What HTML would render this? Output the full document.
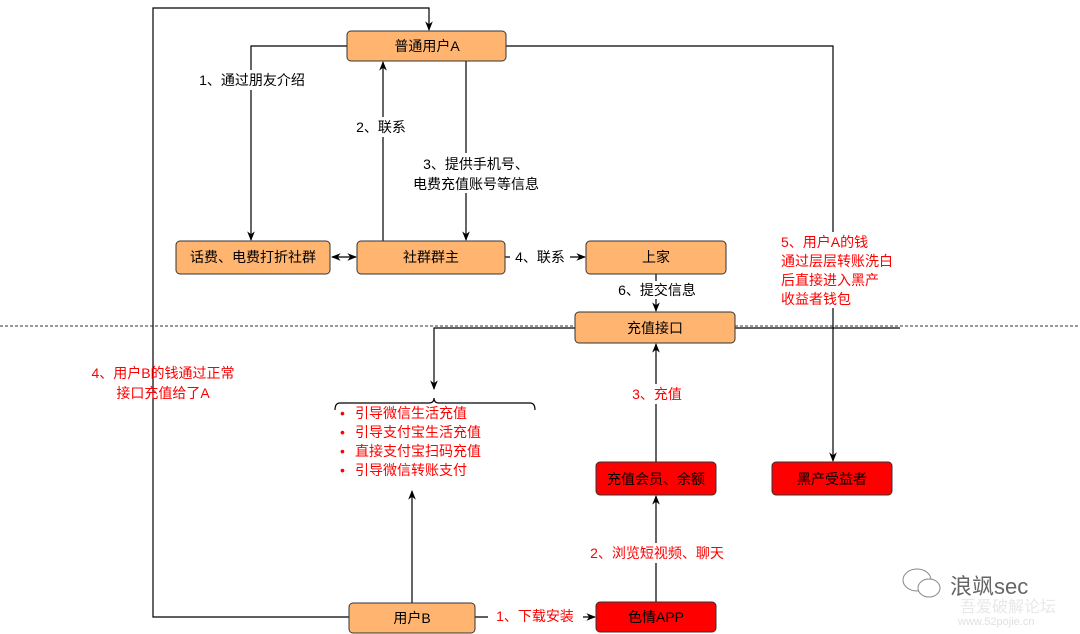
<!DOCTYPE html>
<html><head><meta charset="utf-8"><style>
body{margin:0;background:#fff;}
svg{display:block;font-family:"Liberation Sans","Noto Sans CJK SC",sans-serif;}
</style></head><body>
<svg width="1080" height="634" viewBox="0 0 1080 634" xmlns="http://www.w3.org/2000/svg">
<defs>
<marker id="a" viewBox="0 0 10 10" refX="9" refY="5" markerWidth="8" markerHeight="8" orient="auto-start-reverse"><path d="M0,1 L10,5 L0,9 L3,5 z" fill="#000"/></marker>
</defs>
<line x1="0" y1="326" x2="1080" y2="326" stroke="#333" stroke-dasharray="3,2" stroke-width="1"/>
<g fill="none" stroke="#000" stroke-width="1.2">
<polyline points="349,617 153,617 153,8 429,8 429,30" marker-end="url(#a)"/>
<polyline points="347,46 251,46 251,240" marker-end="url(#a)"/>
<line x1="383" y1="241" x2="383" y2="62" marker-end="url(#a)"/>
<line x1="466" y1="61" x2="466" y2="240" marker-end="url(#a)"/>
<line x1="332" y1="257" x2="356" y2="257" marker-start="url(#a)" marker-end="url(#a)"/>
<line x1="505" y1="257" x2="585" y2="257" marker-end="url(#a)"/>
<line x1="656" y1="274" x2="656" y2="311" marker-end="url(#a)"/>
<polyline points="506,46 833,46 833,461" marker-end="url(#a)"/>
<polyline points="575,328 434,328 434,389" marker-end="url(#a)"/>
<line x1="735" y1="328" x2="900" y2="328"/>
<line x1="656" y1="462" x2="656" y2="344" marker-end="url(#a)"/>
<line x1="656" y1="602" x2="656" y2="496" marker-end="url(#a)"/>
<line x1="412" y1="603" x2="412" y2="491" marker-end="url(#a)"/>
<line x1="475" y1="617" x2="595" y2="617" marker-end="url(#a)"/>
<path d="M335,410 Q335,403 340,403 L429,403 Q434,403 434,398 Q434,403 439,403 L530,403 Q535,403 535,410"/>
</g>
<g stroke="#333" stroke-width="1">
<rect x="347" y="31" width="159" height="30" rx="4" fill="#ffb570"/>
<rect x="176" y="241" width="154" height="33" rx="4" fill="#ffb570"/>
<rect x="357" y="241" width="148" height="33" rx="4" fill="#ffb570"/>
<rect x="586" y="241" width="140" height="33" rx="4" fill="#ffb570"/>
<rect x="575" y="312" width="160" height="31" rx="4" fill="#ffb570"/>
<rect x="349" y="603" width="126" height="30" rx="4" fill="#ffb570"/>
<rect x="596" y="462" width="120" height="33" rx="4" fill="#ff0000"/>
<rect x="772" y="462" width="120" height="33" rx="4" fill="#ff0000"/>
<rect x="596" y="602" width="120" height="30" rx="4" fill="#ff0000"/>
</g>
<g font-size="14" text-anchor="middle" fill="#000">
<text x="427" y="51">普通用户A</text>
<text x="253" y="262">话费、电费打折社群</text>
<text x="431" y="262">社群群主</text>
<text x="656" y="262">上家</text>
<text x="655" y="333">充值接口</text>
<text x="412" y="623">用户B</text>
<text x="656" y="484">充值会员、余额</text>
<text x="832" y="484">黑产受益者</text>
<text x="656" y="622">色情APP</text>
</g>
<g font-size="14" text-anchor="middle" fill="#000">
<rect x="190" y="70" width="125" height="20" fill="#fff"/>
<text x="252" y="85">1、通过朋友介绍</text>
<rect x="350" y="117" width="62" height="20" fill="#fff"/>
<text x="381" y="132">2、联系</text>
<rect x="400" y="153" width="150" height="40" fill="#fff"/>
<text x="476" y="169">3、提供手机号、</text>
<text x="476" y="189">电费充值账号等信息</text>
<rect x="510" y="248" width="60" height="18" fill="#fff"/>
<text x="540" y="262">4、联系</text>
<rect x="612" y="281" width="90" height="18" fill="#fff"/>
<text x="657" y="295">6、提交信息</text>
</g>
<g font-size="14" fill="#ff0000">
<rect x="776" y="232" width="120" height="76" fill="#fff"/>
<text x="781" y="247">5、用户A的钱</text>
<text x="781" y="266">通过层层转账洗白</text>
<text x="781" y="285">后直接进入黑产</text>
<text x="781" y="304">收益者钱包</text>
<text x="163" y="378" text-anchor="middle">4、用户B的钱通过正常</text>
<text x="163" y="398" text-anchor="middle">接口充值给了A</text>
<rect x="622" y="384" width="70" height="20" fill="#fff"/>
<text x="657" y="399" text-anchor="middle">3、充值</text>
<rect x="580" y="543" width="155" height="20" fill="#fff"/>
<text x="657" y="558" text-anchor="middle">2、浏览短视频、聊天</text>
<rect x="488" y="607" width="95" height="20" fill="#fff"/>
<text x="535" y="621" text-anchor="middle">1、下载安装</text>
<text x="340" y="418">•</text><text x="355" y="418">引导微信生活充值</text>
<text x="340" y="437">•</text><text x="355" y="437">引导支付宝生活充值</text>
<text x="340" y="456">•</text><text x="355" y="456">直接支付宝扫码充值</text>
<text x="340" y="475">•</text><text x="355" y="475">引导微信转账支付</text>
</g>
<g fill="none" stroke="#888" stroke-width="1">
<ellipse cx="917" cy="580" rx="14" ry="11"/>
<ellipse cx="929" cy="588" rx="11" ry="9" fill="#fff"/>
</g>
<text x="950" y="594" font-size="22" fill="#666">浪飒sec</text>
<text x="960" y="612" font-size="16" fill="#e8e8e8">吾爱破解论坛</text>
<text x="958" y="625" font-size="11" fill="#e0e0e0">www.52pojie.cn</text>
</svg>
</body></html>
